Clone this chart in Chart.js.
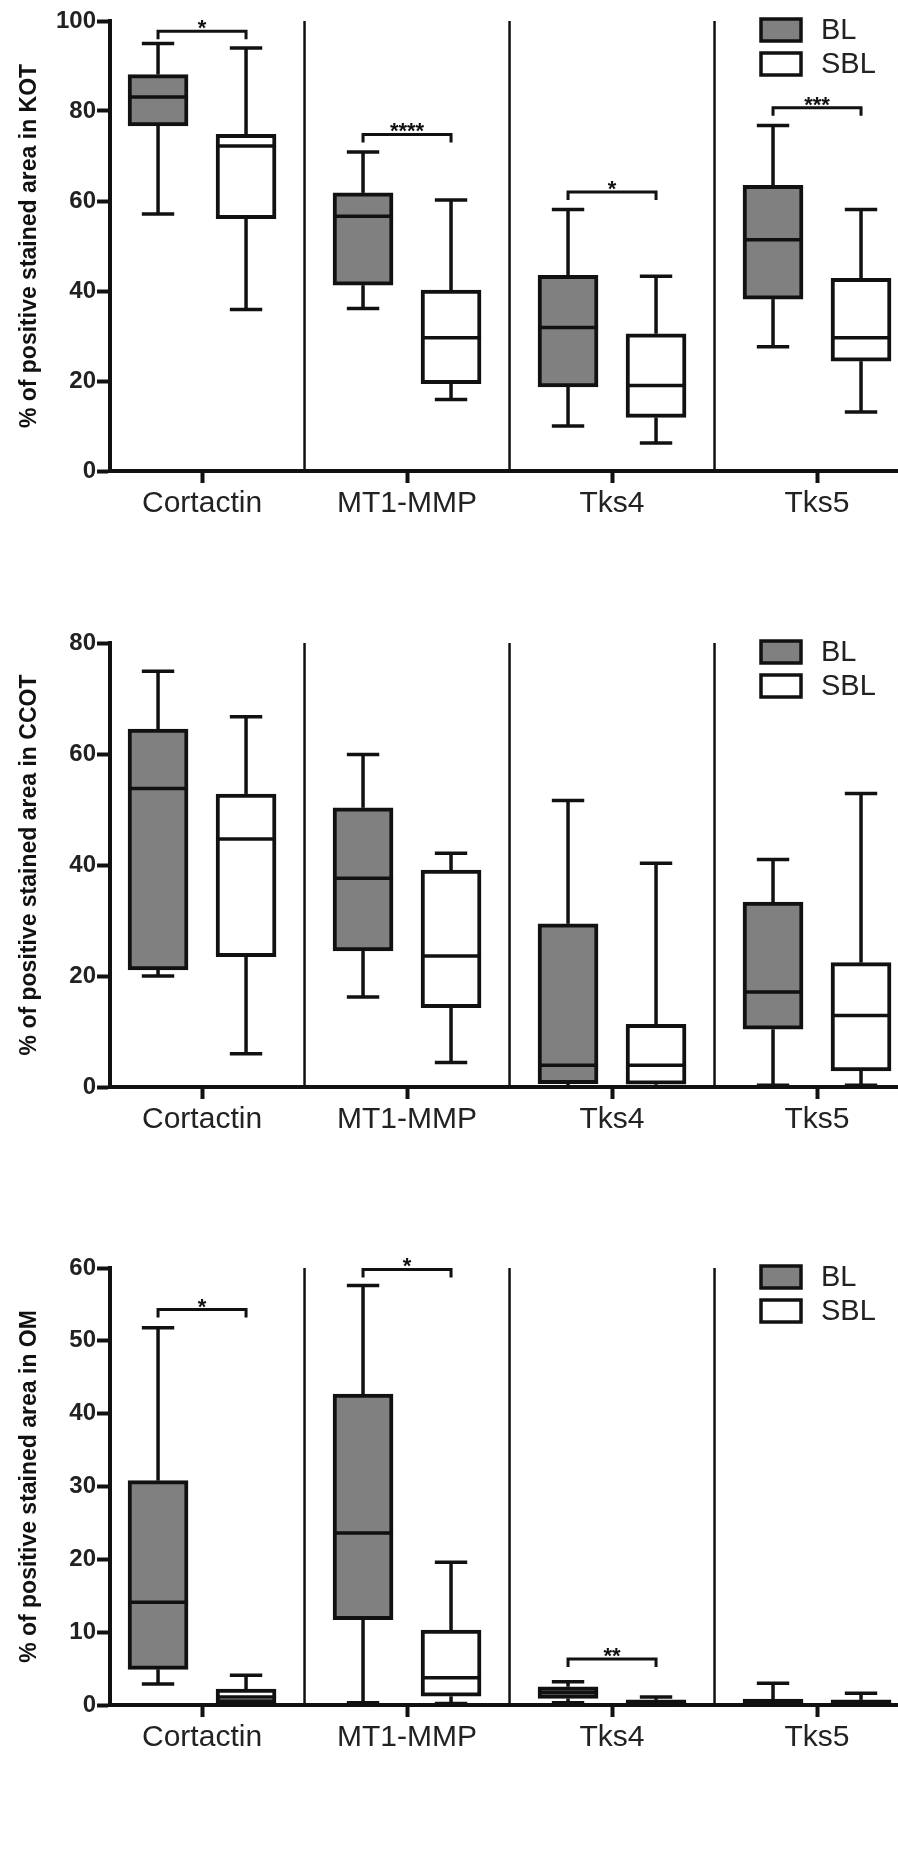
<!DOCTYPE html>
<html>
<head>
<meta charset="utf-8">
<script src="https://cdn.jsdelivr.net/npm/chart.js@4.4.1/dist/chart.umd.min.js"></script>
<style>
  body { margin: 0; background: #fff; width: 898px; height: 1869px; overflow: hidden; }
  .panel { position: relative; width: 898px; }
</style>
</head>
<body>
<div class="panel" style="height:620px"><canvas id="kot"></canvas></div>
<div class="panel" style="height:620px"><canvas id="ccot"></canvas></div>
<div class="panel" style="height:629px"><canvas id="om"></canvas></div>
<script>
const markers = ['Cortactin', 'MT1-MMP', 'Tks4', 'Tks5'];

// each box: [min, q1, median, q3, max]
const kotBL  = [[57.1, 76.7, 83.1, 88.1, 95.0], [36.1, 41.3, 56.6, 61.8, 70.9], [10.0, 18.7, 31.9, 43.5, 58.1], [27.6, 38.2, 51.4, 63.5, 76.8]];
const kotSBL = [[35.9, 56.1, 72.2, 74.8, 94.0], [15.9, 19.4, 29.6, 40.2, 60.2], [6.2, 11.9, 19.0, 30.5, 43.3], [13.1, 24.4, 29.6, 42.8, 58.1]];
const kotSig = [[0, 97.7, '*'], [1, 74.8, '****'], [2, 62.0, '*'], [3, 80.7, '***']];

const ccotBL  = [[20.0, 21.1, 53.8, 64.5, 74.9], [16.2, 24.5, 37.6, 50.3, 59.9], [0.0, 0.6, 3.9, 29.4, 51.6], [0.3, 10.4, 17.1, 33.3, 41.0]];
const ccotSBL = [[6.0, 23.5, 44.7, 52.8, 66.7], [4.4, 14.3, 23.6, 39.1, 42.1], [0.0, 0.5, 3.9, 11.3, 40.3], [0.3, 2.9, 12.9, 22.4, 52.9]];
const ccotSig = [];

const omBL  = [[2.9, 4.9, 14.1, 30.8, 51.8], [0.3, 11.7, 23.6, 42.7, 57.6], [0.3, 0.9, 1.7, 2.5, 3.2], [0.1, 0.2, 0.4, 0.8, 3.0]];
const omSBL = [[0.1, 0.3, 1.1, 2.2, 4.1], [0.2, 1.2, 3.75, 10.3, 19.6], [0.0, 0.1, 0.3, 0.7, 1.1], [0.1, 0.2, 0.4, 0.7, 1.6]];
const omSig = [[0, 54.3, '*'], [1, 59.8, '*'], [2, 6.3, '**']];

const FONT = "'Liberation Sans', Arial, Helvetica, sans-serif";
const INK = '#111';

function seg(ctx, x1, y1, x2, y2) {
  ctx.beginPath();
  ctx.moveTo(x1, y1);
  ctx.lineTo(x2, y2);
  ctx.stroke();
}

// whiskers, medians, dividers, brackets and legend around the floating bars
const boxExtras = {
  id: 'boxExtras',
  beforeDatasetsDraw(chart, args, opts) {
    const { ctx, chartArea: a, scales: { x, y } } = chart;
    ctx.save();
    ctx.strokeStyle = INK;
    ctx.lineWidth = 2.5;
    for (let i = 0; i < markers.length - 1; i++) {
      const px = x.getPixelForValue(i + 0.5);
      seg(ctx, px, a.top, px, a.bottom);
    }
    ctx.lineWidth = 3.5;
    opts.stats.forEach((set, d) => {
      const meta = chart.getDatasetMeta(d);
      set.forEach((s, i) => {
        const el = meta.data[i];
        const cap = el.width * 0.27;
        const yMin = y.getPixelForValue(s[0]), yMax = y.getPixelForValue(s[4]);
        seg(ctx, el.x, yMin, el.x, y.getPixelForValue(s[1]));
        seg(ctx, el.x, y.getPixelForValue(s[3]), el.x, yMax);
        seg(ctx, el.x - cap, yMin, el.x + cap, yMin);
        seg(ctx, el.x - cap, yMax, el.x + cap, yMax);
      });
    });
    ctx.restore();
  },
  afterDatasetsDraw(chart, args, opts) {
    const { ctx, scales: { y } } = chart;
    ctx.save();
    ctx.strokeStyle = INK;
    ctx.lineWidth = 3.5;
    opts.stats.forEach((set, d) => {
      const meta = chart.getDatasetMeta(d);
      set.forEach((s, i) => {
        const el = meta.data[i];
        const ym = y.getPixelForValue(s[2]);
        seg(ctx, el.x - el.width / 2, ym, el.x + el.width / 2, ym);
      });
    });

    // significance brackets
    ctx.lineWidth = 3;
    ctx.fillStyle = INK;
    ctx.font = 'bold 22px ' + FONT;
    ctx.textAlign = 'center';
    ctx.textBaseline = 'alphabetic';
    opts.sig.forEach(([i, v, label]) => {
      const xl = chart.getDatasetMeta(0).data[i].x;
      const xr = chart.getDatasetMeta(1).data[i].x;
      const yp = y.getPixelForValue(v);
      ctx.beginPath();
      ctx.moveTo(xl, yp + 8);
      ctx.lineTo(xl, yp);
      ctx.lineTo(xr, yp);
      ctx.lineTo(xr, yp + 8);
      ctx.stroke();
      ctx.fillText(label, (xl + xr) / 2, yp + 4);
    });
    ctx.restore();
  },
  afterDraw(chart) {
    const { ctx, chartArea: a } = chart;
    ctx.save();
    ctx.lineWidth = 3.5;
    ctx.strokeStyle = INK;
    ctx.font = '29px ' + FONT;
    ctx.textBaseline = 'middle';
    ctx.textAlign = 'left';
    chart.data.datasets.forEach((ds, d) => {
      const top = a.top - 2 + d * 34;
      ctx.fillStyle = ds.backgroundColor;
      ctx.fillRect(a.right - 137, top, 40, 22);
      ctx.strokeRect(a.right - 137, top, 40, 22);
      ctx.fillStyle = '#222';
      ctx.fillText(ds.label, a.right - 77, top + 12);
    });
    ctx.restore();
  }
};

function boxSet(label, stats, color) {
  return {
    label: label,
    data: stats.map((s, i) => ({ x: i, y: [s[1], s[3]] })),
    backgroundColor: color,
    borderColor: INK,
    borderWidth: 4,
    borderSkipped: false,
    barThickness: 88,
    maxBarThickness: 60
  };
}

function makePanel(id, site, yMax, yStep, bl, sbl, sig, padTop, padBottom) {
  new Chart(document.getElementById(id), {
    type: 'bar',
    plugins: [boxExtras],
    data: {
      datasets: [boxSet('BL', bl, '#808080'), boxSet('SBL', sbl, '#ffffff')]
    },
    options: {
      responsive: true,
      maintainAspectRatio: false,
      animation: false,
      layout: { padding: { top: padTop, bottom: padBottom, left: 0, right: 0 } },
      scales: {
        x: {
          type: 'linear',
          min: -0.449,
          max: 3.395,
          offset: false,
          afterBuildTicks: s => { s.ticks = markers.map((m, i) => ({ value: i })); },
          afterFit: s => { s.height = 60; s.paddingLeft = 0; s.paddingRight = 0; },
          ticks: {
            callback: (v, i) => markers[i],
            font: { size: 30, family: FONT },
            color: '#222',
            padding: 3,
            maxRotation: 0,
            autoSkip: false
          },
          grid: { drawOnChartArea: false, offset: false, tickLength: 12, tickWidth: 4, color: INK },
          border: { display: true, color: INK, width: 4 }
        },
        y: {
          min: 0,
          max: yMax,
          afterFit: s => { s.width = 110; s.paddingTop = 0; s.paddingBottom = 0; },
          ticks: {
            stepSize: yStep,
            font: { size: 24, weight: 'bold', family: FONT },
            color: '#222',
            padding: 1
          },
          grid: { drawOnChartArea: false, tickLength: 13, tickWidth: 4, color: INK },
          border: { display: true, color: INK, width: 4 },
          title: {
            display: true,
            text: '% of positive stained area in ' + site,
            font: { size: 23, weight: 'bold', family: FONT },
            color: INK,
            padding: { top: 16, bottom: 0 }
          }
        }
      },
      plugins: {
        legend: { display: false },
        tooltip: { enabled: false },
        boxExtras: { stats: [bl, sbl], sig: sig }
      }
    }
  });
}

makePanel('kot', 'KOT', 100, 20, kotBL, kotSBL, kotSig, 21, 89);
makePanel('ccot', 'CCOT', 80, 20, ccotBL, ccotSBL, ccotSig, 23, 93);
makePanel('om', 'OM', 60, 10, omBL, omSBL, omSig, 28, 104);
</script>
</body>
</html>
